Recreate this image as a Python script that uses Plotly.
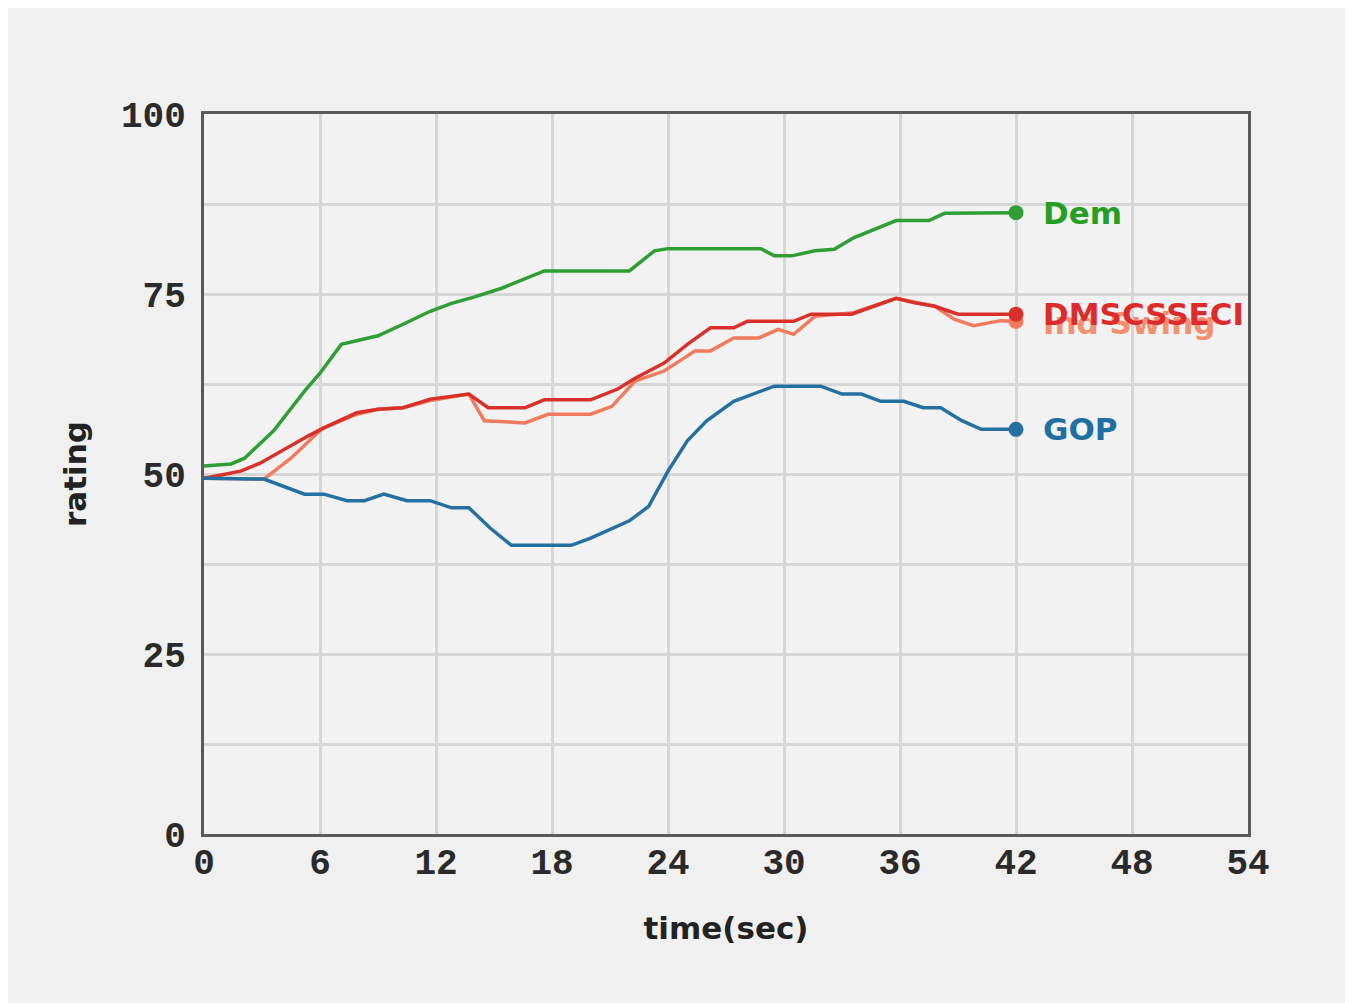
import plotly.graph_objects as go

# ---- data ----
dem_t = [0, 1.4, 2.1, 3.6, 5.2, 6, 7.1, 8, 9, 10.3, 11.7, 12.8, 14, 15.4, 16.5, 17.6, 22, 23.3, 24,
         28.8, 29.5, 30.4, 31.6, 32.6, 33.6, 34.5, 35.8, 37.5, 38.3, 42]
dem_y = [51.1, 51.4, 52.2, 56, 61.5, 64, 68, 68.6, 69.2, 70.8, 72.6, 73.7, 74.6, 75.8, 77, 78.2, 78.2, 81, 81.3,
         81.3, 80.3, 80.3, 81, 81.2, 82.8, 83.8, 85.2, 85.2, 86.2, 86.3]

dms_t = [0, 1.9, 2.9, 4, 5.4, 6.2, 7.9, 9, 10.3, 11.7, 13.7, 14.7, 16.6, 17.6, 20, 21.4, 22.3, 23.8, 25, 26.2,
         27.4, 28.1, 30.5, 31.4, 33.5, 35.8, 36.7, 37.8, 39, 42]
dms_y = [49.4, 50.4, 51.5, 53.2, 55.3, 56.4, 58.5, 59, 59.2, 60.4, 61.1, 59.2, 59.2, 60.3, 60.3, 61.8, 63.3, 65.4, 68, 70.3,
         70.3, 71.2, 71.2, 72.2, 72.2, 74.4, 73.8, 73.3, 72.2, 72.2]

ind_t = [0, 3.1, 4.5, 6.1, 7.9, 9, 10.3, 11.7, 13.7, 14.5, 16.6, 17.8, 20, 21.1, 22.3, 23.8, 25.4, 26.2, 27.4,
         28.7, 29.7, 30.5, 31.6, 33.6, 35.8, 37.8, 38.8, 39.8, 41.2, 42]
ind_y = [49.4, 49.3, 52.2, 56.3, 58.3, 59, 59.2, 60.2, 61.1, 57.4, 57.1, 58.3, 58.3, 59.4, 62.9, 64.3, 67.1, 67.1, 68.9,
         68.9, 70.1, 69.4, 71.9, 72.4, 74.4, 73.3, 71.5, 70.6, 71.3, 71.2]

gop_t = [0, 3.1, 5.2, 6.2, 7.4, 8.3, 9.3, 10.5, 11.7, 12.8, 13.7, 14.8, 15.9, 19, 20, 22, 23, 24, 25, 26, 27.4,
         29.5, 31.9, 33, 34, 35, 36.2, 37.2, 38.1, 39.2, 40.2, 42]
gop_y = [49.4, 49.3, 47.2, 47.2, 46.3, 46.3, 47.2, 46.3, 46.3, 45.3, 45.3, 42.5, 40.1, 40.1, 41.1, 43.5, 45.5, 50.4,
         54.6, 57.4, 60.1, 62.2, 62.2, 61.1, 61.1, 60.1, 60.1, 59.2, 59.2, 57.4, 56.2, 56.2]

series_names = ["Ind Swing", "DMSCSSECI", "GOP", "Dem"]
x_ticks = [0, 6, 12, 18, 24, 30, 36, 42, 48, 54]
y_grid = [0, 12.5, 25, 37.5, 50, 62.5, 75, 87.5, 100]
y_labels = ["0", "", "25", "", "50", "", "75", "", "100"]

colors = {"Dem": "#2f9e34", "DMSCSSECI": "#d9302c", "Ind Swing": "#f27a5e", "GOP": "#2470a0"}
label_colors = {"Dem": "#23a023", "DMSCSSECI": "#dd2a2a", "Ind Swing": "#f29070", "GOP": "#1f6fa3"}
label_dy = {"Dem": 0, "DMSCSSECI": 0, "Ind Swing": -2, "GOP": 0}

data = {
    "Ind Swing": (ind_t, ind_y),
    "DMSCSSECI": (dms_t, dms_y),
    "GOP": (gop_t, gop_y),
    "Dem": (dem_t, dem_y),
}

fig = go.Figure()
for name in series_names:
    t, y = data[name]
    fig.add_trace(go.Scatter(x=t, y=y, mode="lines", name=name,
                             line=dict(color=colors[name], width=3.5), showlegend=False))
    fig.add_trace(go.Scatter(x=[t[-1]], y=[y[-1]], mode="markers",
                             marker=dict(color=colors[name], size=15), showlegend=False))
    fig.add_annotation(x=t[-1], y=y[-1], text="<b>" + name + "</b>", showarrow=False,
                       xanchor="left", yanchor="middle", xshift=25, yshift=label_dy[name],
                       font=dict(family="DejaVu Sans", size=31, color=label_colors[name]))

fig.update_layout(
    width=1353, height=1003,
    paper_bgcolor="#f0f0f0", plot_bgcolor="#f2f2f2",
    margin=dict(l=196, r=113, t=106, b=177),
    font=dict(family="DejaVu Sans", color="#222"),
)
fig.update_xaxes(
    range=[0, 54], tickvals=x_ticks, ticktext=[str(v) for v in x_ticks],
    showgrid=True, gridcolor="#d6d6d6", gridwidth=3,
    showline=True, linecolor="#5a5a5a", linewidth=3, mirror=True,
    zeroline=False, ticks="", ticklabelstandoff=-6,
    tickfont=dict(family="Liberation Mono", size=36, color="#2a2a2a", weight="bold"),
    title=dict(text="<b>time(sec)</b>", font=dict(family="DejaVu Sans", size=31, color="#222"), standoff=34),
)
fig.update_yaxes(
    range=[0, 100], tickvals=y_grid, ticktext=y_labels,
    showgrid=True, gridcolor="#d6d6d6", gridwidth=3,
    showline=True, linecolor="#5a5a5a", linewidth=3, mirror=True,
    zeroline=False, ticks="", ticklabelstandoff=8,
    tickfont=dict(family="Liberation Mono", size=36, color="#2a2a2a", weight="bold"),
    title=dict(text="<b>rating</b>", font=dict(family="DejaVu Sans", size=31, color="#222"), standoff=26),
)

fig.write_html("out.html")
